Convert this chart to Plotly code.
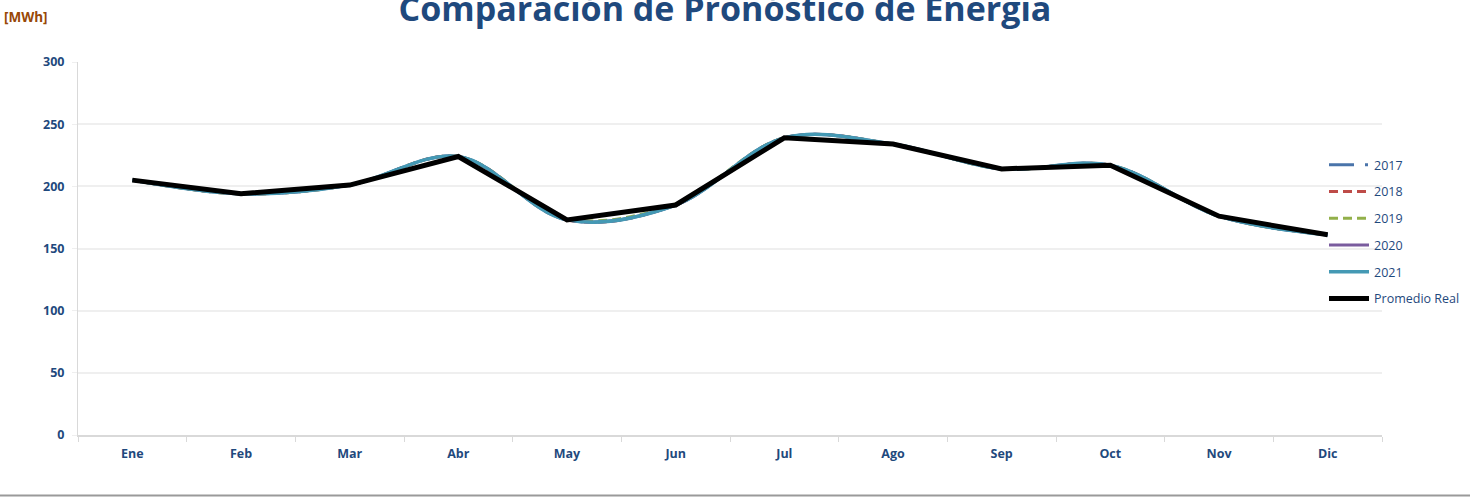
import plotly.graph_objects as go

# Month categories
meses = ["Ene", "Feb", "Mar", "Abr", "May", "Jun", "Jul", "Ago", "Sep", "Oct", "Nov", "Dic"]

# Forecasts per year [MWh]
pron_2017 = [205, 194, 201, 224, 173, 185, 239, 234, 214, 217, 176, 161]
pron_2018 = [205, 194, 201, 224, 173, 185, 239, 234, 214, 217, 176, 161]
pron_2019 = [205, 194, 201, 224, 174, 186, 239, 234, 214, 217, 176, 161]
pron_2020 = [205, 194, 201, 224, 173, 185, 239, 234, 214, 217, 176, 161]
pron_2021 = [205, 194, 201, 224, 173, 185, 239, 234, 214, 217, 176, 161]

# Actual average [MWh]
promedio_real = [205, 194, 201, 224, 173, 185, 239, 234, 214, 217, 176, 161]

y_ticks = [0, 50, 100, 150, 200, 250, 300]

AZUL = "#1F497D"
FONT = "Open Sans"

series = [
    ("2017", pron_2017, "#4A74AA", "25px,11px,3px,11px", 3, "spline"),
    ("2018", pron_2018, "#BE4B48", "9px,5px", 3, "spline"),
    ("2019", pron_2019, "#92B04A", "9px,5px", 3, "spline"),
    ("2020", pron_2020, "#7A5C9E", "solid", 3, "spline"),
    ("2021", pron_2021, "#4499B4", "solid", 3.5, "spline"),
    ("Promedio Real", promedio_real, "#000000", "solid", 5, "linear"),
]

fig = go.Figure()
for nombre, vals, color, dash, width, shape in series:
    fig.add_trace(go.Scatter(
        x=meses, y=vals, name=nombre, mode="lines",
        legendgroup=nombre,
        line=dict(color=color, dash=dash, width=width, shape=shape, smoothing=1.0),
    ))

W, H = 1470, 497
L, R, T, B = 78, 88, 62, 62
pw, ph = W - L - R, H - T - B

fig.update_layout(
    width=W, height=H,
    margin=dict(l=L, r=R, t=T, b=B, autoexpand=False),
    paper_bgcolor="white", plot_bgcolor="white",
    font=dict(family=FONT, color=AZUL),
    title=dict(
        text="Comparación de Pronóstico de Energía",
        x=(L + 647) / W, xanchor="center",
        y=(H - 9) / H, yref="container", yanchor="middle",
        font=dict(size=34, color=AZUL, family=FONT, weight="bold"),
    ),
    showlegend=True,
    legend=dict(
        x=(1324 - L) / pw, xanchor="left",
        y=(435 - 150) / ph, yanchor="top",
        bgcolor="rgba(0,0,0,0)",
        font=dict(size=12.5, color=AZUL, family=FONT),
        traceorder="grouped", tracegroupgap=7.5,
        itemwidth=40,
    ),
    xaxis=dict(
        type="category", range=[-0.5, 11.5],
        showgrid=False, showline=True, linecolor="#D9D9D9", linewidth=1.5,
        ticks="outside", tickson="boundaries", ticklen=5, tickcolor="#D9D9D9",
        tickfont=dict(size=12.5, color=AZUL, family=FONT, weight="bold"),
        ticklabelstandoff=6,
        zeroline=False,
    ),
    yaxis=dict(
        range=[0, 300], tickvals=y_ticks,
        showgrid=True, gridcolor="#EFEFEF", gridwidth=1.5,
        showline=True, linecolor="#D9D9D9", linewidth=1,
        ticks="outside", ticklen=5, tickcolor="#EFEFEF",
        tickfont=dict(size=12.5, color=AZUL, family=FONT, weight="bold"),
        ticklabelstandoff=5,
        zeroline=False,
    ),
    annotations=[dict(
        text="[MWh]", xref="paper", yref="paper",
        x=(2 - L) / pw, xanchor="left",
        y=(435 - 17) / ph, yanchor="middle",
        showarrow=False,
        font=dict(size=13.5, color="#984807", family=FONT, weight="bold"),
    )],
    shapes=[dict(
        type="line", xref="paper", yref="paper",
        x0=-L / pw, x1=(W - L) / pw,
        y0=(435 - 495.5) / ph, y1=(435 - 495.5) / ph,
        line=dict(color="#9A9A9A", width=2),
    )],
)

fig.write_html("out.html")
